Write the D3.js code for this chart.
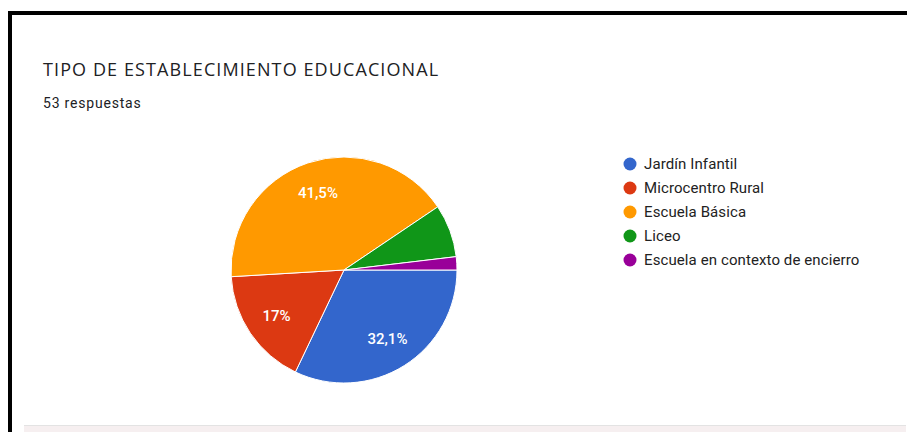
<!DOCTYPE html>
<html>
<head>
<meta charset="utf-8">
<script src="https://cdn.jsdelivr.net/npm/d3@7"></script>
<style>
  body { margin: 0; background: #fff; }
  svg { display: block; }
</style>
</head>
<body>
<svg id="chart" width="907" height="432"></svg>
<script>
// respuestas por tipo de establecimiento (53 en total)
var categories = ["Jardín Infantil", "Microcentro Rural", "Escuela Básica", "Liceo", "Escuela en contexto de encierro"];
var counts = [17, 9, 22, 4, 1];
var colors = ["#3366cc", "#dc3912", "#ff9900", "#109618", "#990099"];

var total = d3.sum(counts);
var data = categories.map(function(c, i) { return {name: c, value: counts[i], color: colors[i]}; });

var svg = d3.select("#chart");

// frame (black border top/left, grey strip at the bottom)
svg.append("rect").attr("x", 8).attr("y", 11).attr("width", 899).attr("height", 4).attr("fill", "#000");
svg.append("rect").attr("x", 8).attr("y", 11).attr("width", 4).attr("height", 421).attr("fill", "#000");
svg.append("rect").attr("x", 24).attr("y", 425).attr("width", 882).attr("height", 7).attr("fill", "#f6eff0");
svg.append("rect").attr("x", 24).attr("y", 425).attr("width", 882).attr("height", 1).attr("fill", "#e3e3e3");

svg.append("text")
    .attr("x", 43).attr("y", 76)
    .attr("font-family", "'Open Sans', Roboto, sans-serif")
    .attr("font-size", 18)
    .attr("letter-spacing", 1.1)
    .attr("fill", "#202124")
    .text("TIPO DE ESTABLECIMIENTO EDUCACIONAL");

svg.append("text")
    .attr("x", 43).attr("y", 108)
    .attr("font-family", "Roboto, sans-serif")
    .attr("font-size", 14)
    .attr("letter-spacing", 0.8)
    .attr("fill", "#202124")
    .text(total + " respuestas");

////////// pie //////////

var cx = 344, cy = 270, r = 113;

var pie = d3.pie()
    .sort(null)
    .value(function(d) { return d.value; })
    .startAngle(Math.PI / 2)
    .endAngle(Math.PI / 2 + 2 * Math.PI);

var arc = d3.arc().innerRadius(0).outerRadius(r);
var labelArc = d3.arc().innerRadius(r * 0.72).outerRadius(r * 0.72);

var g = svg.append("g").attr("transform", "translate(" + cx + "," + cy + ")");

var arcs = pie(data);

g.selectAll("path")
    .data(arcs)
    .enter().append("path")
    .attr("d", arc)
    .attr("fill", function(d) { return d.data.color; })
    .attr("stroke", "#fff")
    .attr("stroke-width", 1);

var fmt = function(v) {
  var p = Math.round(v / total * 1000) / 10;
  return String(p).replace(".", ",") + "%";
};

g.selectAll("text.pct")
    .data(arcs.filter(function(d) { return d.data.value / total > 0.1; }))
    .enter().append("text")
    .attr("class", "pct")
    .attr("transform", function(d) { return "translate(" + labelArc.centroid(d) + ")"; })
    .attr("text-anchor", "middle")
    .attr("dy", "0.35em")
    .attr("font-family", "Roboto, Arial, sans-serif")
    .attr("font-size", 15)
    .attr("font-weight", 500)
    .attr("fill", "#fff")
    .text(function(d) { return fmt(d.data.value); });

////////// legend //////////

var legend = svg.append("g").attr("transform", "translate(630,164)");

var item = legend.selectAll("g")
    .data(data)
    .enter().append("g")
    .attr("transform", function(d, i) { return "translate(0," + i * 24 + ")"; });

item.append("circle")
    .attr("r", 6.5)
    .attr("fill", function(d) { return d.color; });

item.append("text")
    .attr("x", 14)
    .attr("dy", "0.35em")
    .attr("font-family", "Roboto, Arial, sans-serif")
    .attr("font-size", 15)
    .attr("letter-spacing", 0.1)
    .attr("fill", "#222")
    .text(function(d) { return d.name; });
</script>
</body>
</html>
